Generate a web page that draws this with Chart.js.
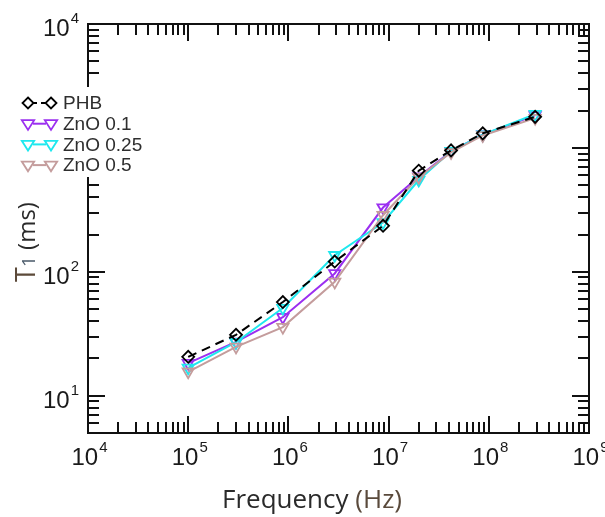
<!DOCTYPE html>
<html>
<head>
<meta charset="utf-8">
<script src="https://cdn.jsdelivr.net/npm/chart.js@4.4.0/dist/chart.umd.min.js"></script>
<style>
  html, body { margin: 0; padding: 0; background: #ffffff; }
  #wrap { width: 605px; height: 517px; }
</style>
</head>
<body>
<div id="wrap"><canvas id="c" width="605" height="517"></canvas></div>
<script>
// ---- data ----
const frequency = [1e5, 3e5, 8.8e5, 2.9e6, 8.8e6, 2e7, 4.2e7, 8.7e7, 2.9e8];
const phb     = [20.6, 31, 57, 121, 235, 655, 955, 1310, 1780];
const zno01   = [18.3, 27.2, 43, 97, 330, 585, 940, 1280, 1830];
const zno025  = [16.8, 27, 51, 136, 250, 550, 940, 1280, 1870];
const zno05   = [15.6, 24.8, 35.8, 83, 286, 580, 920, 1260, 1740];
const seriesNames = ['PHB', 'ZnO 0.1', 'ZnO 0.25', 'ZnO 0.5'];
const xTickExponents = [4, 5, 6, 7, 8, 9];
const yTickExponents = [1, 2, 3, 4];
const xTitle = ['Frequency ', '(Hz)'];
const yTitle = ['T', '1', ' (ms)'];

// ---- styles ----
const colors = ['#000000', '#9b2ff0', '#1ee8ee', '#c49c9c'];
const styles = ['rectRot', 'triangle', 'triangle', 'triangle'];

function pts(ys) { return frequency.map((f, i) => ({ x: f, y: ys[i] })); }

const seriesValues = [phb, zno01, zno025, zno05];
const datasets = seriesValues.map((vals, i) => ({
  label: seriesNames[i],
  data: pts(vals),
  borderColor: colors[i],
  backgroundColor: 'rgba(255,255,255,0)',
  borderWidth: 2,
  borderDash: i === 0 ? [9, 6] : [],
  pointStyle: styles[i],
  pointRotation: i === 0 ? 0 : 180,
  pointRadius: i === 0 ? 6 : 6.5,
  pointBorderWidth: 1.8,
  pointBorderColor: colors[i],
  pointBackgroundColor: 'rgba(255,255,255,0)',
  tension: 0,
  order: i === 0 ? 0 : 4 - i
}));

const TICK_FONT = 'Liberation Sans, Arial, sans-serif';
const TITLE_FONT = '"Open Sans", "Noto Sans", sans-serif';

function drawPow(ctx, x, y, exp, align) {
  ctx.fillStyle = '#1a1a1a';
  ctx.textBaseline = 'alphabetic';
  ctx.textAlign = 'left';
  ctx.font = '24px ' + TICK_FONT;
  const w10 = ctx.measureText('10').width;
  ctx.font = '15px ' + TICK_FONT;
  const we = ctx.measureText(String(exp)).width;
  let x0;
  if (align === 'center') x0 = x - (w10 + we) / 2 + 1;
  else x0 = x - (w10 + we + 1);
  ctx.font = '24px ' + TICK_FONT;
  ctx.fillText('10', x0, y);
  ctx.font = '15px ' + TICK_FONT;
  ctx.fillText(String(exp), x0 + w10 + 1, y - 13);
}

function drawMarker(ctx, style, x, y, color) {
  ctx.save();
  ctx.strokeStyle = color;
  ctx.lineWidth = 1.8;
  ctx.beginPath();
  if (style === 'rectRot') {
    const r = 5.5;
    ctx.moveTo(x, y - r); ctx.lineTo(x + r, y); ctx.lineTo(x, y + r); ctx.lineTo(x - r, y); ctx.closePath();
  } else {
    const r = 6.5;
    ctx.moveTo(x - r * 0.95, y - r * 0.55); ctx.lineTo(x + r * 0.95, y - r * 0.55); ctx.lineTo(x, y + r * 0.95); ctx.closePath();
  }
  ctx.stroke();
  ctx.restore();
}

const framePlugin = {
  id: 'frame',
  afterDatasetsDraw(chart) {
    const ctx = chart.ctx;
    const xs = chart.scales.x, ys = chart.scales.y;
    const { left, right, top, bottom } = chart.chartArea;
    ctx.save();
    // border
    ctx.strokeStyle = '#111';
    ctx.lineWidth = 2;
    ctx.strokeRect(left, top, right - left, bottom - top);
    // ticks (all four sides, inward)
    ctx.lineWidth = 2;
    ctx.beginPath();
    for (let e = 4; e <= 9; e++) {
      for (let k = 1; k <= 9; k++) {
        const v = k * Math.pow(10, e);
        if (v < xs.min || v > xs.max) continue;
        const px = Math.round(xs.getPixelForValue(v));
        const len = k === 1 ? 17 : 11;
        ctx.moveTo(px, bottom); ctx.lineTo(px, bottom - len);
        ctx.moveTo(px, top); ctx.lineTo(px, top + len);
      }
    }
    for (let e = 0; e <= 4; e++) {
      for (let k = 1; k <= 9; k++) {
        const v = k * Math.pow(10, e);
        if (v < ys.min || v > ys.max) continue;
        const py = Math.round(ys.getPixelForValue(v));
        const len = k === 1 ? 17 : 11;
        ctx.moveTo(left, py); ctx.lineTo(left + len, py);
        ctx.moveTo(right, py); ctx.lineTo(right - len, py);
      }
    }
    ctx.stroke();
    // tick labels
    xTickExponents.forEach(e => {
      const px = xs.getPixelForValue(Math.pow(10, e));
      drawPow(ctx, px, bottom + 32, e, 'center');
    });
    yTickExponents.forEach(e => {
      const py = ys.getPixelForValue(Math.pow(10, e));
      drawPow(ctx, left - 9, py + 12, e, 'right');
    });
    // x title
    ctx.font = '26px ' + TITLE_FONT;
    ctx.textBaseline = 'alphabetic';
    ctx.textAlign = 'left';
    const w1 = ctx.measureText(xTitle[0]).width;
    const w2 = ctx.measureText(xTitle[1]).width;
    const cx = 312;
    let tx = cx - (w1 + w2) / 2;
    ctx.fillStyle = '#2a2a2a';
    ctx.fillText(xTitle[0], tx, 508);
    ctx.fillStyle = '#5a4a3c';
    ctx.fillText(xTitle[1], tx + w1, 508);
    // y title (rotated)
    ctx.save();
    ctx.translate(35, 242);
    ctx.rotate(-Math.PI / 2);
    ctx.font = '27px ' + TITLE_FONT;
    const wT = ctx.measureText(yTitle[0]).width;
    ctx.font = '19px ' + TITLE_FONT;
    const w1s = ctx.measureText(yTitle[1]).width;
    ctx.font = '24px ' + TITLE_FONT;
    const wms = ctx.measureText(yTitle[2]).width;
    let ty = -(wT + w1s + wms) / 2;
    ctx.font = '27px ' + TITLE_FONT;
    ctx.fillStyle = '#5c4a3a';
    ctx.fillText(yTitle[0], ty, 0);
    ctx.font = '19px ' + TITLE_FONT;
    ctx.fillStyle = '#4a5a6a';
    ctx.fillText(yTitle[1], ty + wT, 0);
    ctx.font = '24px ' + TITLE_FONT;
    ctx.fillStyle = '#2a2a2a';
    ctx.fillText(yTitle[2], ty + wT + w1s, 0);
    ctx.restore();
    // legend (white box covers the axis behind it)
    ctx.fillStyle = '#ffffff';
    ctx.fillRect(14, 87, 136, 90);
    seriesNames.forEach((name, i) => {
      const yy = 103 + i * 20.7;
      const x1 = 28, x2 = 51;
      ctx.save();
      ctx.strokeStyle = colors[i];
      ctx.lineWidth = 2;
      ctx.setLineDash(i === 0 ? [4, 4] : []);
      ctx.beginPath(); ctx.moveTo(x1 + 5, yy); ctx.lineTo(x2 - 5, yy); ctx.stroke();
      ctx.restore();
      drawMarker(ctx, styles[i], x1, yy, colors[i]);
      drawMarker(ctx, styles[i], x2, yy, colors[i]);
      ctx.font = '19px ' + TICK_FONT;
      ctx.fillStyle = '#2e2e2e';
      ctx.textAlign = 'left';
      ctx.textBaseline = 'middle';
      ctx.fillText(name, 63, yy + 1);
    });
    ctx.restore();
  }
};

new Chart(document.getElementById('c'), {
  type: 'line',
  data: { datasets },
  options: {
    responsive: false,
    animation: false,
    devicePixelRatio: 1,
    layout: { padding: { left: 88, right: 16, top: 24, bottom: 84 } },
    plugins: { legend: { display: false }, tooltip: { enabled: false } },
    scales: {
      x: { type: 'logarithmic', min: 1e4, max: 1e9, display: false },
      y: { type: 'logarithmic', min: 5, max: 1e4, display: false }
    }
  },
  plugins: [framePlugin]
});
</script>
</body>
</html>
